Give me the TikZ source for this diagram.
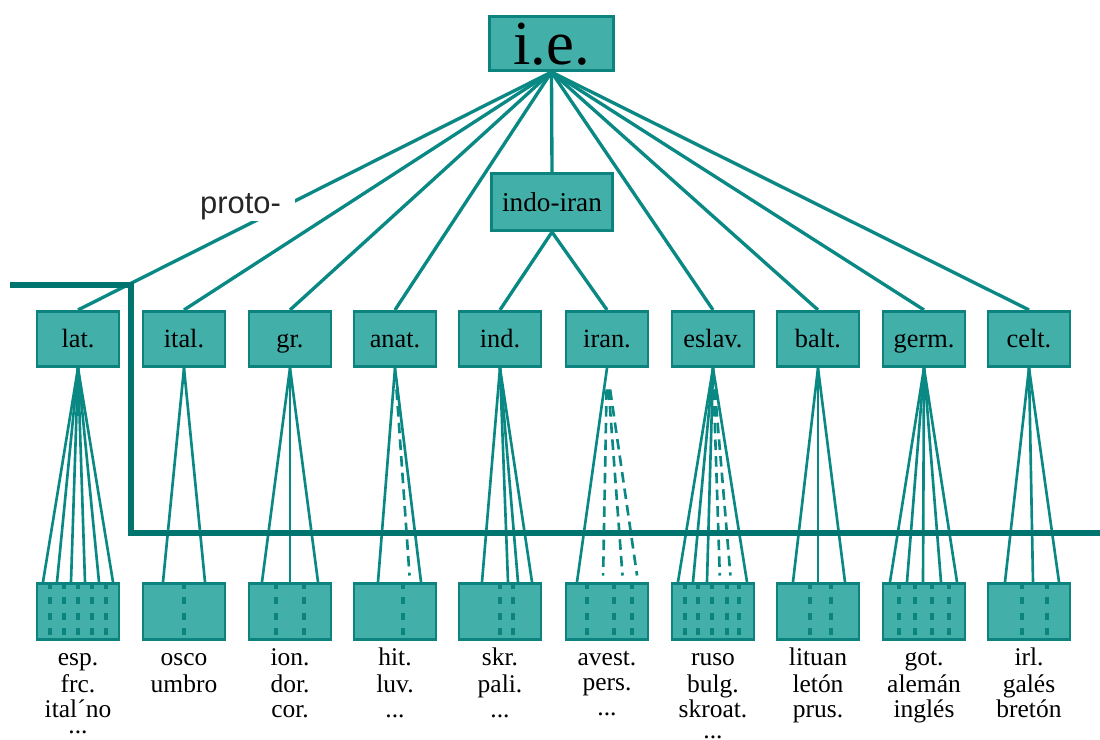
\documentclass[tikz,border=0pt]{standalone}
\usepackage{fontspec}
\setmainfont{Liberation Serif}
\newfontfamily\protosans{Liberation Sans}
\usetikzlibrary{calc,backgrounds}
\definecolor{boxfill}{HTML}{42B0A9}
\definecolor{boxline}{HTML}{0C837E}
\definecolor{linkc}{HTML}{0A8884}
\definecolor{thickc}{HTML}{007570}
\begin{document}
\begin{tikzpicture}[x=0.02cm,y=-0.02cm,
  box/.style={draw=boxline,fill=boxfill,line width=1.5pt,minimum width=1.64cm,minimum height=1.11cm,inner sep=0pt,text height=10.2pt,text depth=0pt,font=\fontsize{15pt}{15pt}\selectfont},
  leaf/.style={box,minimum height=1.13cm},
  link/.style={draw=linkc,line width=1.9pt},
  fan/.style={draw=linkc,line width=1.5pt},
  fandash/.style={fan,dash pattern=on 6pt off 3.5pt},
  divider/.style={draw=boxline,line width=1.9pt,dash pattern=on 4pt off 4.8pt},
  lang/.style={anchor=north,inner sep=0pt,align=center,font=\fontsize{14.5pt}{14.2pt}\selectfont},
  border/.style={draw=thickc,line width=3.5pt,line join=miter}]
\useasboundingbox (0,0) rectangle (1100,740);

% nodes
\node[box,minimum width=2.49cm,minimum height=1.09cm,text height=24.4pt,font=\fontsize{35.7pt}{36pt}\selectfont] (ie) at (551.5,43.5) {i.e.};
\node[box,minimum width=2.43cm,minimum height=1.15cm,text height=10.6pt,font=\fontsize{15.5pt}{15.5pt}\selectfont] (ii) at (552,202) {indo-iran};
\foreach \n/\x/\t in {lat/78/lat., ital/184/ital., gr/290/gr., anat/395/anat., ind/500/ind., iran/607/iran., eslav/713/eslav., balt/818/balt., germ/924/germ., celt/1029/celt.} {
  \node[box] (\n) at (\x,339) {\t};
  \node[leaf] (L\n) at (\x,611.5) {};
}

% connectors behind the boxes
\begin{pgfonlayer}{background}
  \foreach \n in {lat,ital,gr,anat,eslav,balt,germ,celt}
    \draw[link] (ie.south) -- (\n.north);
  \draw[link] (ie.south) -- (ii.north);
  \draw[link] (ii.south) -- (ind.north);
  \draw[link] (ii.south) -- (iran.north);
  % solid fans
  \foreach \n/\offs in {lat/{-35,-21,-7,7,21,35}, ital/{-21,21}, gr/{-28,0,28}, anat/{-17,26}, ind/{-18,8,18,32}, iran/{-30}, eslav/{-35,-20,-6,34}, balt/{-25,0,27}, germ/{-34,-17,-1,17,33}, celt/{-24,4,30}}
    \foreach \o in \offs
      \draw[fan] (\n.south) -- ($(L\n.north)+(\o,0)$);
  % dashed fans
  \foreach \n/\offs in {anat/{15}, iran/{-4,16,31}, eslav/{7,18}}
    \foreach \o in \offs
      \draw[fandash] ($(\n.south)!0.1!($(L\n.north)+(\o,0)$)$) -- ($(\n.south)!0.97!($(L\n.north)+(\o,0)$)$);
  % thick boundary line
  \coordinate (b0) at (10,285);
  \coordinate (b1) at (131,285);
  \coordinate (b2) at (131,533);
  \coordinate (b3) at (1106,533);
  \draw[border] (b0) -- (b1) -- (b2) -- (b3);
\end{pgfonlayer}

% proto- label masking the line
\node[fill=white,inner xsep=0.28cm,inner ysep=0.02cm,text=black!85,font=\protosans\fontsize{17.6pt}{18pt}\selectfont] (proto) at (240.5,207) {proto-};

% dashed dividers inside leaf boxes
\foreach \n/\offs in {lat/{-28,-14,0,14,28}, ital/{0}, gr/{-14,14}, anat/{8}, ind/{0,13}, iran/{-20,7,25}, eslav/{-28,-15,-1,14,26}, balt/{-8,13}, germ/{-25,-9,8,25}, celt/{-7,18}}
  \foreach \d in \offs
    \draw[divider] ($(L\n.north)+(\d,0)$) -- ($(L\n.south)+(\d,0)$);

% language labels
\node[lang] (tlat) at (78,647.5) {\strut esp.\\frc.\\ital´no\\[-5pt]...};
\node[lang] (tital) at (184,647.5) {\strut osco\\umbro};
\node[lang] (tgr) at (290,647.5) {\strut ion.\\dor.\\cor.};
\node[lang] (tanat) at (395,647.5) {\strut hit.\\luv.\\...};
\node[lang] (tind) at (500,647.5) {\strut skr.\\pali.\\...};
\node[lang] (tiran) at (607,647.5) {\strut avest.\\pers.\\...};
\node[lang] (teslav) at (713,647.5) {\strut ruso\\bulg.\\skroat.\\[-2pt]...};
\node[lang] (tbalt) at (818,647.5) {\strut lituan\\letón\\prus.};
\node[lang] (tgerm) at (924,647.5) {\strut got.\\alemán\\inglés};
\node[lang] (tcelt) at (1029,647.5) {\strut irl.\\galés\\bretón};
\end{tikzpicture}
\end{document}
